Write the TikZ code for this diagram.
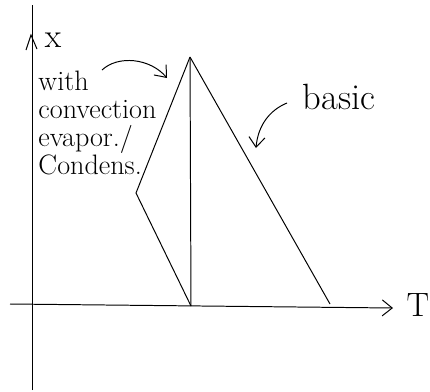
\documentclass[tikz,border=0pt]{standalone}
\usetikzlibrary{arrows.meta, positioning}
\begin{document}
\begin{tikzpicture}[
	x=0.25mm, y=-0.25mm,
	line width=0.7pt,
	hand/.style={font=\fontsize{20}{20}\selectfont, inner sep=0pt, align=left},
	barb/.style={-{Straight Barb[length=2.5mm, width=4mm]}}
	]
	\useasboundingbox (0,0) rectangle (430,392);
	
	% --- EIXOS ---
	\coordinate (ybot) at (32,390);
	\coordinate (ytop) at (32,5);
	\coordinate (xleft) at (10,304);
	\coordinate (xright) at (393,308);
	\draw (ybot) -- (ytop);
	\draw[barb] (xleft) -- (xright);
	\draw (26,50) -- (31,35) -- (37,49);
	\node[hand, font=\fontsize{24}{24}\selectfont] (xlab) at (53,40) {x};
	\node[hand, font=\fontsize{24}{24}\selectfont] (Tlab) at (418,305) {T};
	
	% --- PERFIS ---
	\coordinate (peak) at (190,57);
	\coordinate (base) at (191,306);
	\coordinate (kink) at (136,193);
	\coordinate (foot) at (330,304);
	\draw (peak) -- (base);
	\draw (peak) -- (foot);
	\draw (peak) -- (kink) -- (base);
	
	% --- LEGENDAS ---
	\node[hand, anchor=north west] (conv) at (38,70) {with\\convection\\evapor./\\Condens.};
	\node[hand, font=\fontsize{26}{26}\selectfont] (basic) at (339,97) {basic};
	\coordinate (convend) at (167,78);
	\coordinate (basicend) at (256,148);
	\draw[barb] (102,70) .. controls (118,55) and (150,58) .. (convend);
	\draw[barb] (287,103) .. controls (270,110) and (258,125) .. (basicend);
\end{tikzpicture}
\end{document}
